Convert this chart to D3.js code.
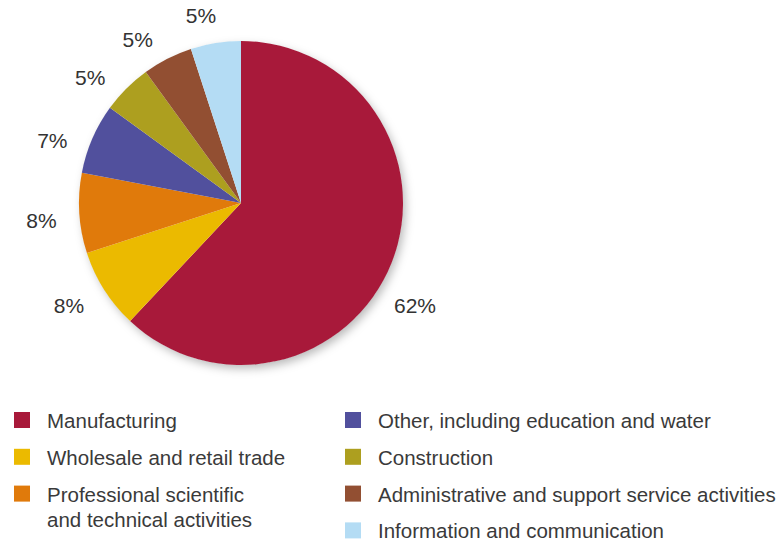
<!DOCTYPE html>
<html>
<head>
<meta charset="utf-8">
<script src="https://cdn.jsdelivr.net/npm/d3@7"></script>
<style>
  html, body { margin: 0; padding: 0; background: #fff; }
  svg { display: block; font-family: "Liberation Sans", Arial, Helvetica, sans-serif; }
  .pct { font-size: 21px; fill: #333; }
  .legend text { font-size: 20.5px; fill: #3a3a3a; }
</style>
</head>
<body>
<div id="chart"></div>
<script>
  const categories = [
    "Manufacturing",
    "Wholesale and retail trade",
    "Professional scientific\nand technical activities",
    "Other, including education and water",
    "Construction",
    "Administrative and support service activities",
    "Information and communication"
  ];
  const shares = [62, 8, 8, 7, 5, 5, 5];
  const colors = ["#a8193a", "#ebba00", "#e07a0b", "#51509d", "#ad9f1f", "#924f32", "#b4dcf4"];

  // hand nudges for the percent labels, relative to the arc centroid
  const labelNudge = [[-11, 29], [-4, -4], [-1, 5], [-6, 16], [-10, 15], [-13, 14], [-9, 9]];

  const width = 778, height = 542;
  const cx = 241, cy = 203, radius = 162;
  const labelRadius = 199;

  const data = categories.map((c, i) => ({ name: c, value: shares[i], color: colors[i] }));

  const svg = d3.select("#chart")
    .append("svg")
    .attr("width", width)
    .attr("height", height);

  const defs = svg.append("defs");
  const shadow = defs.append("filter")
    .attr("id", "pieShadow")
    .attr("x", "-20%").attr("y", "-20%")
    .attr("width", "140%").attr("height", "140%");
  shadow.append("feDropShadow")
    .attr("dx", 3)
    .attr("dy", 4)
    .attr("stdDeviation", 5)
    .attr("flood-color", "#000")
    .attr("flood-opacity", 0.28);

  const pie = d3.pie()
    .value(d => d.value)
    .sort(null);

  const arcs = pie(data);

  const arc = d3.arc()
    .innerRadius(0)
    .outerRadius(radius);

  const labelArc = d3.arc()
    .innerRadius(labelRadius)
    .outerRadius(labelRadius);

  const g = svg.append("g")
    .attr("transform", `translate(${cx},${cy})`);

  g.append("circle")
    .attr("r", radius - 0.5)
    .attr("fill", "#fff")
    .attr("filter", "url(#pieShadow)");

  g.selectAll("path")
    .data(arcs)
    .join("path")
    .attr("d", arc)
    .attr("fill", d => d.data.color);

  g.selectAll("text.pct")
    .data(arcs)
    .join("text")
    .attr("class", "pct")
    .attr("transform", (d, i) => {
      const [x, y] = labelArc.centroid(d);
      return `translate(${x + labelNudge[i][0]},${y + labelNudge[i][1]})`;
    })
    .attr("text-anchor", "middle")
    .attr("dy", "0.36em")
    .text(d => `${d.data.value}%`);

  // legend: two columns
  const colX = [14, 345];
  const rowY0 = 428, rowStep = 36.8;
  const perCol = 3;

  const legend = svg.append("g").attr("class", "legend");

  const items = legend.selectAll("g")
    .data(data)
    .join("g")
    .attr("transform", (d, i) => {
      const col = i < perCol ? 0 : 1;
      const row = i < perCol ? i : i - perCol;
      return `translate(${colX[col]},${rowY0 + row * rowStep})`;
    });

  items.append("rect")
    .attr("x", 0)
    .attr("y", -16)
    .attr("width", 16)
    .attr("height", 16)
    .attr("fill", d => d.color);

  items.append("text")
    .attr("x", 33)
    .attr("y", 0)
    .selectAll("tspan")
    .data(d => d.name.split("\n"))
    .join("tspan")
    .attr("x", 33)
    .attr("dy", (d, i) => i === 0 ? 0 : 25)
    .text(d => d);
</script>
</body>
</html>
